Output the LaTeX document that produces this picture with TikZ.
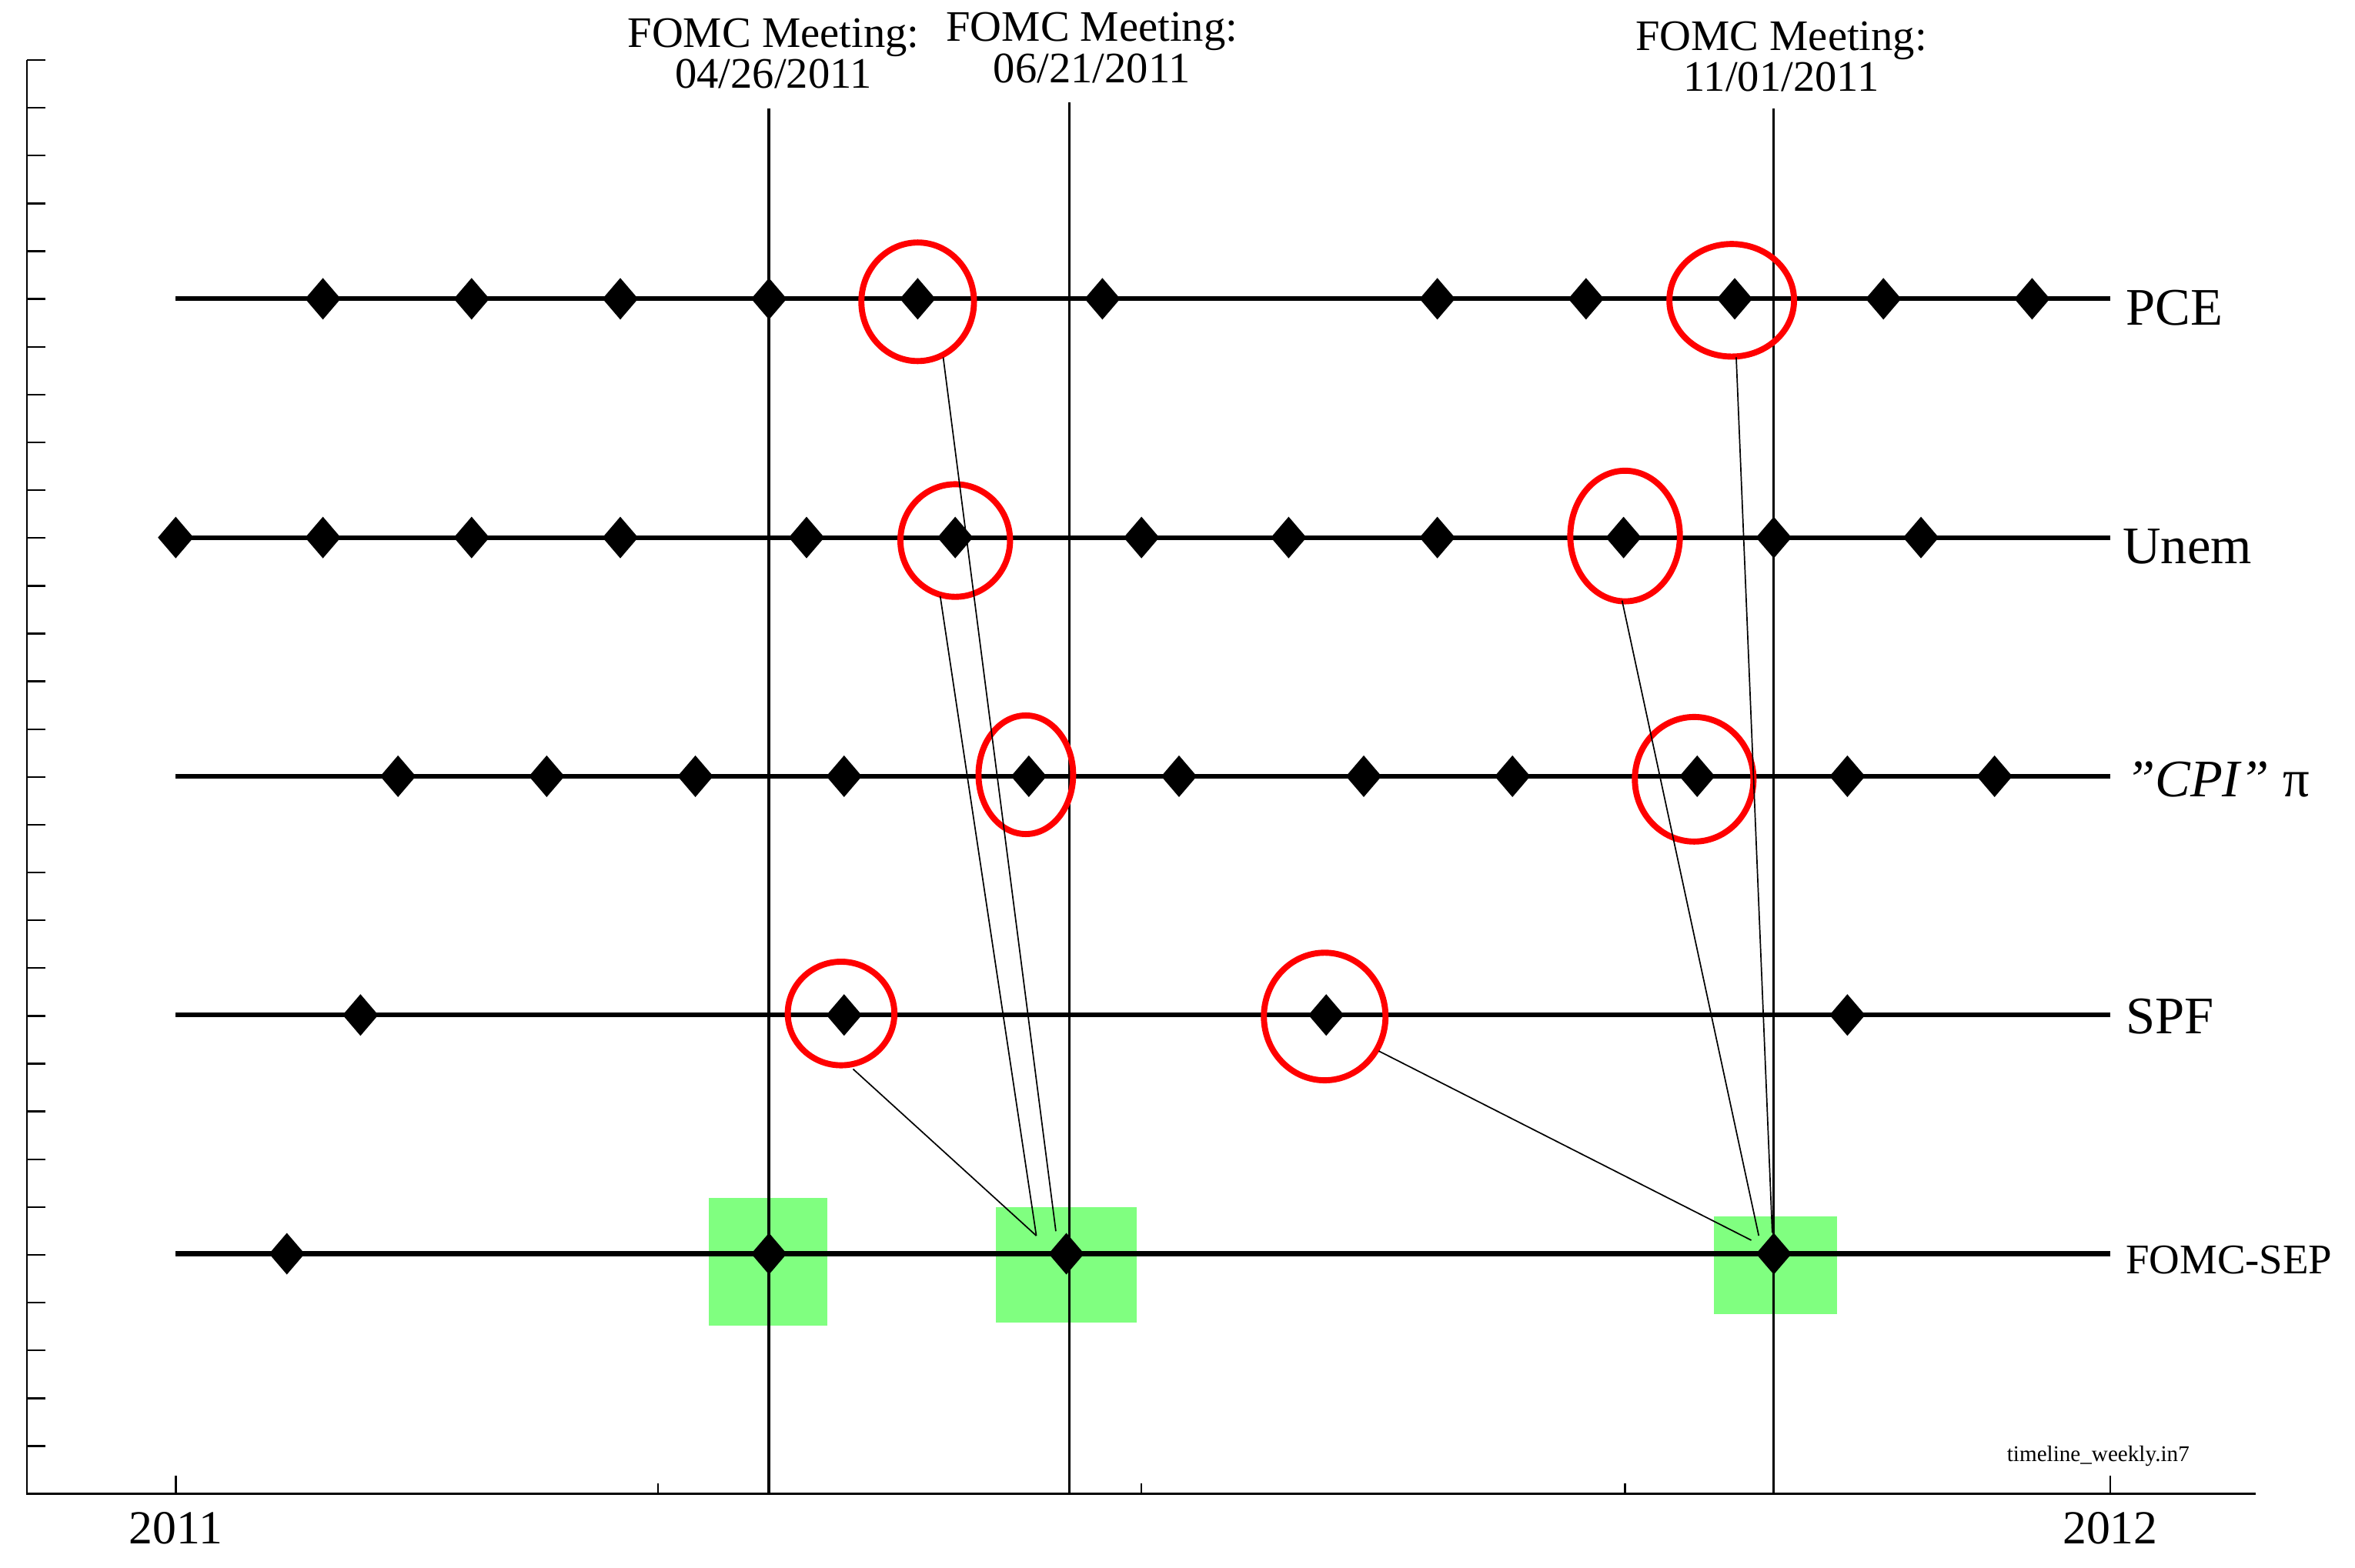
\documentclass[tikz,border=0pt]{standalone}
\usepackage{fontspec}
\setmainfont{Liberation Serif}
\usetikzlibrary{shapes.geometric}
\definecolor{selg}{RGB}{128,255,128}
\begin{document}
\begin{tikzpicture}[x=0.02cm,y=-0.02cm,
  tl/.style={line width=1.8pt},
  dia/.style={diamond,fill=black,inner sep=0pt,minimum width=0.48cm,minimum height=0.56cm,aspect=0.85},
  ring/.style={ellipse,draw=red,line width=2.3pt,inner sep=0pt},
  sel/.style={fill=selg,draw=none},
  con/.style={line width=0.5pt},
  meet/.style={align=center,font=\fontsize{16.5}{14.5}\selectfont,inner sep=0pt,anchor=north},
  ser/.style={anchor=west,inner sep=0pt}]
\useasboundingbox (0,0) rectangle (1568,1044);
% green boxes
\fill[sel] (472,798) rectangle (551,883);
\fill[sel] (663,804) rectangle (757,881);
\fill[sel] (1141,810) rectangle (1223,875);
% axes
\draw[line width=0.8pt] (18,40) -- (18,995) -- (1502,995);
\foreach \k in {0,...,30} \draw[line width=0.7pt] (18,{40+\k*31.83}) -- (30,{40+\k*31.83});
\foreach \x in {117,1405} \draw[line width=0.7pt] (\x,995) -- (\x,983);
\foreach \x in {438,760,1082} \draw[line width=0.7pt] (\x,995) -- (\x,988);
\node[font=\fontsize{18}{18}\selectfont] (y1) at (117,1018) {2011};
\node[font=\fontsize{18}{18}\selectfont] (y2) at (1405,1018) {2012};
\node[font=\fontsize{8.5}{9}\selectfont] (fn) at (1397,970) {timeline\_weekly.in7};
% meeting lines
\draw[line width=1.1pt] (512,72) -- (512,995);
\draw[line width=0.7pt] (712,68) -- (712,995);
\draw[line width=0.9pt] (1181,72) -- (1181,995);
\node[meet] (m1) at (515,12) {FOMC Meeting:\\04/26/2011};
\node[meet] (m2) at (727,8) {FOMC Meeting:\\06/21/2011};
\node[meet] (m3) at (1186,14) {FOMC Meeting:\\11/01/2011};
% series lines
\draw[tl] (117,199) -- (1405,199);
\draw[tl] (117,358) -- (1405,358);
\draw[tl] (117,517) -- (1405,517);
\draw[tl] (117,676) -- (1405,676);
\draw[tl] (117,835) -- (1405,835);
\node[ser,font=\fontsize{20}{20}\selectfont] (lp) at (1415,205) {PCE};
\node[ser,font=\fontsize{20}{20}\selectfont] (lu) at (1413,364) {Unem};
\node[ser,font=\fontsize{20}{20}\selectfont] (lc) at (1415,519) {\textit{\symbol{34}CPI\symbol{34}} π};
\node[ser,font=\fontsize{20}{20}\selectfont] (ls) at (1415,677) {SPF};
\node[ser,font=\fontsize{16}{16}\selectfont] (lf) at (1415,839) {FOMC-SEP};
% diamonds
\foreach \x [count=\i] in {215,314,413,512,611,734,957,1056,1155,1254,1353} \node[dia] (p\i) at (\x,199) {};
\foreach \x [count=\i] in {117,215,314,413,537,636,760,858,957,1081,1181,1279} \node[dia] (u\i) at (\x,358) {};
\foreach \x [count=\i] in {265,364,463,562,685,785,908,1007,1130,1230,1328} \node[dia] (c\i) at (\x,517) {};
\foreach \x [count=\i] in {240,562,883,1230} \node[dia] (s\i) at (\x,676) {};
\foreach \x [count=\i] in {191,512,710,1181} \node[dia] (f\i) at (\x,835) {};
% red rings
\node[ring,minimum width=1.5cm,minimum height=1.58cm] (r1) at (611,201) {};
\node[ring,minimum width=1.46cm,minimum height=1.5cm] (r2) at (636,360) {};
\node[ring,minimum width=1.26cm,minimum height=1.58cm] (r3) at (683,516) {};
\node[ring,minimum width=1.66cm,minimum height=1.5cm] (r4) at (1153,200) {};
\node[ring,minimum width=1.46cm,minimum height=1.74cm] (r5) at (1082,357) {};
\node[ring,minimum width=1.58cm,minimum height=1.66cm] (r6) at (1128,519) {};
\node[ring,minimum width=1.42cm,minimum height=1.38cm] (r7) at (560,675) {};
\node[ring,minimum width=1.62cm,minimum height=1.7cm] (r8) at (882,677) {};
% connector ends
\coordinate (e1) at (703,820);
\coordinate (e2) at (690,823);
\coordinate (e3) at (1180,821);
\coordinate (e4) at (1171,823);
\coordinate (e5) at (1166,826);
\coordinate (b1) at (628,238);
\coordinate (b2) at (626,397);
\coordinate (b3) at (568,712);
\coordinate (b4) at (1156,238);
\coordinate (b5) at (1080,400);
\coordinate (b6) at (918,700);
\draw[con] (b1) -- (e1);
\draw[con] (b2) -- (e2);
\draw[con] (b3) -- (e2);
\draw[con] (b4) -- (e3);
\draw[con] (b5) -- (e4);
\draw[con] (b6) -- (e5);
\end{tikzpicture}
\end{document}
